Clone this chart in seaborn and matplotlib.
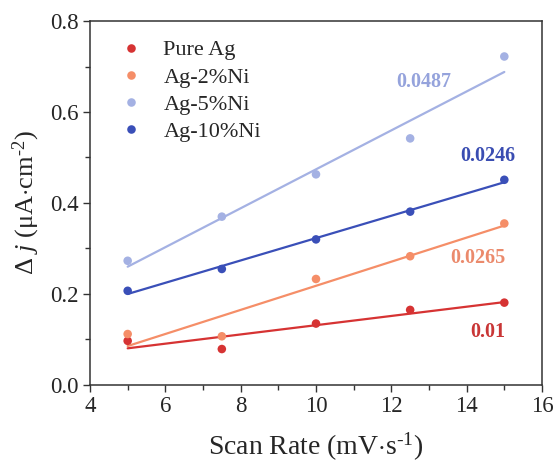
import matplotlib
matplotlib.use("Agg")
import matplotlib.pyplot as plt
from matplotlib.ticker import MultipleLocator
import seaborn as sns
import pandas as pd

# Scan rate (mV/s) and double-layer current difference for each alloy
scan_rate = [5, 7.5, 10, 12.5, 15]
pure_ag = [0.097, 0.079, 0.135, 0.165, 0.181]
ag_2ni = [0.112, 0.107, 0.233, 0.283, 0.355]
ag_5ni = [0.273, 0.370, 0.463, 0.542, 0.722]
ag_10ni = [0.207, 0.255, 0.320, 0.381, 0.451]

series_names = ["Pure Ag", "Ag-2%Ni", "Ag-5%Ni", "Ag-10%Ni"]
slope_labels = ["0.01", "0.0265", "0.0487", "0.0246"]

colors = ["#d63333", "#f58e68", "#a4b1e3", "#3a4fb8"]
label_colors = ["#c93636", "#eb8a6c", "#95a3dc", "#3a4db2"]
label_pos = [(14.55, 0.117), (14.3, 0.279), (12.85, 0.666), (14.55, 0.503)]

rows = []
for name, vals in zip(series_names, [pure_ag, ag_2ni, ag_5ni, ag_10ni]):
    for x, y in zip(scan_rate, vals):
        rows.append({"rate": x, "dj": y, "sample": name})
df = pd.DataFrame(rows)

sns.set_style("ticks")
plt.rcParams["font.family"] = ["Liberation Serif", "DejaVu Serif"]
plt.rcParams["mathtext.fontset"] = "custom"
plt.rcParams["mathtext.rm"] = "Liberation Serif"
plt.rcParams["mathtext.it"] = "Liberation Serif:italic"

fig = plt.figure(figsize=(5.58, 4.70), dpi=100)
ax = fig.add_axes([0.1613, 0.1809, 0.810, 0.7744])

for name, c in zip(series_names, colors):
    sub = df[df["sample"] == name]
    sns.regplot(data=sub, x="rate", y="dj", ax=ax, ci=None, truncate=True,
                scatter=False, line_kws={"color": c, "lw": 1.6})
sns.scatterplot(data=df, x="rate", y="dj", hue="sample", hue_order=series_names,
                palette=colors, s=38, edgecolor="none", ax=ax, zorder=3)

for txt, c, (x, y) in zip(slope_labels, label_colors, label_pos):
    ax.text(x, y, txt, color=c, fontsize=14.5, fontweight="bold",
            ha="center", va="center")

ax.set_xlim(4, 16)
ax.set_ylim(0, 0.8)
ax.xaxis.set_major_locator(MultipleLocator(2))
ax.xaxis.set_minor_locator(MultipleLocator(1))
ax.yaxis.set_major_locator(MultipleLocator(0.2))
ax.yaxis.set_minor_locator(MultipleLocator(0.1))
ax.set_yticklabels([f"{v:.1f}" for v in ax.get_yticks()])
ax.tick_params(axis="both", which="major", direction="out", length=5,
               width=1, labelsize=16.5, color="#333333", pad=3)
ax.tick_params(axis="both", which="minor", direction="out", length=3.5,
               width=1, color="#333333")
ax.tick_params(top=False, right=False, which="both")
for sp in ax.spines.values():
    sp.set_visible(True)
    sp.set_linewidth(1.1)
    sp.set_color("#333333")

ax.set_xlabel("Scan Rate (mV$\\cdot$s$^{\u2010\\mathrm{1}}$)", fontsize=20, labelpad=10)
ax.set_ylabel("$\\Delta$ $j$ ($\\mathrm{\\mu}$A$\\cdot$cm$^{\u2010\\mathrm{2}}$)", fontsize=19, labelpad=6)

leg = ax.legend(loc="upper left", bbox_to_anchor=(0.0, 1.0), frameon=False,
                fontsize=16, handletextpad=0.45, labelspacing=0.3,
                borderaxespad=0.45, markerscale=1.0)

fig.savefig("out.png", dpi=100)
